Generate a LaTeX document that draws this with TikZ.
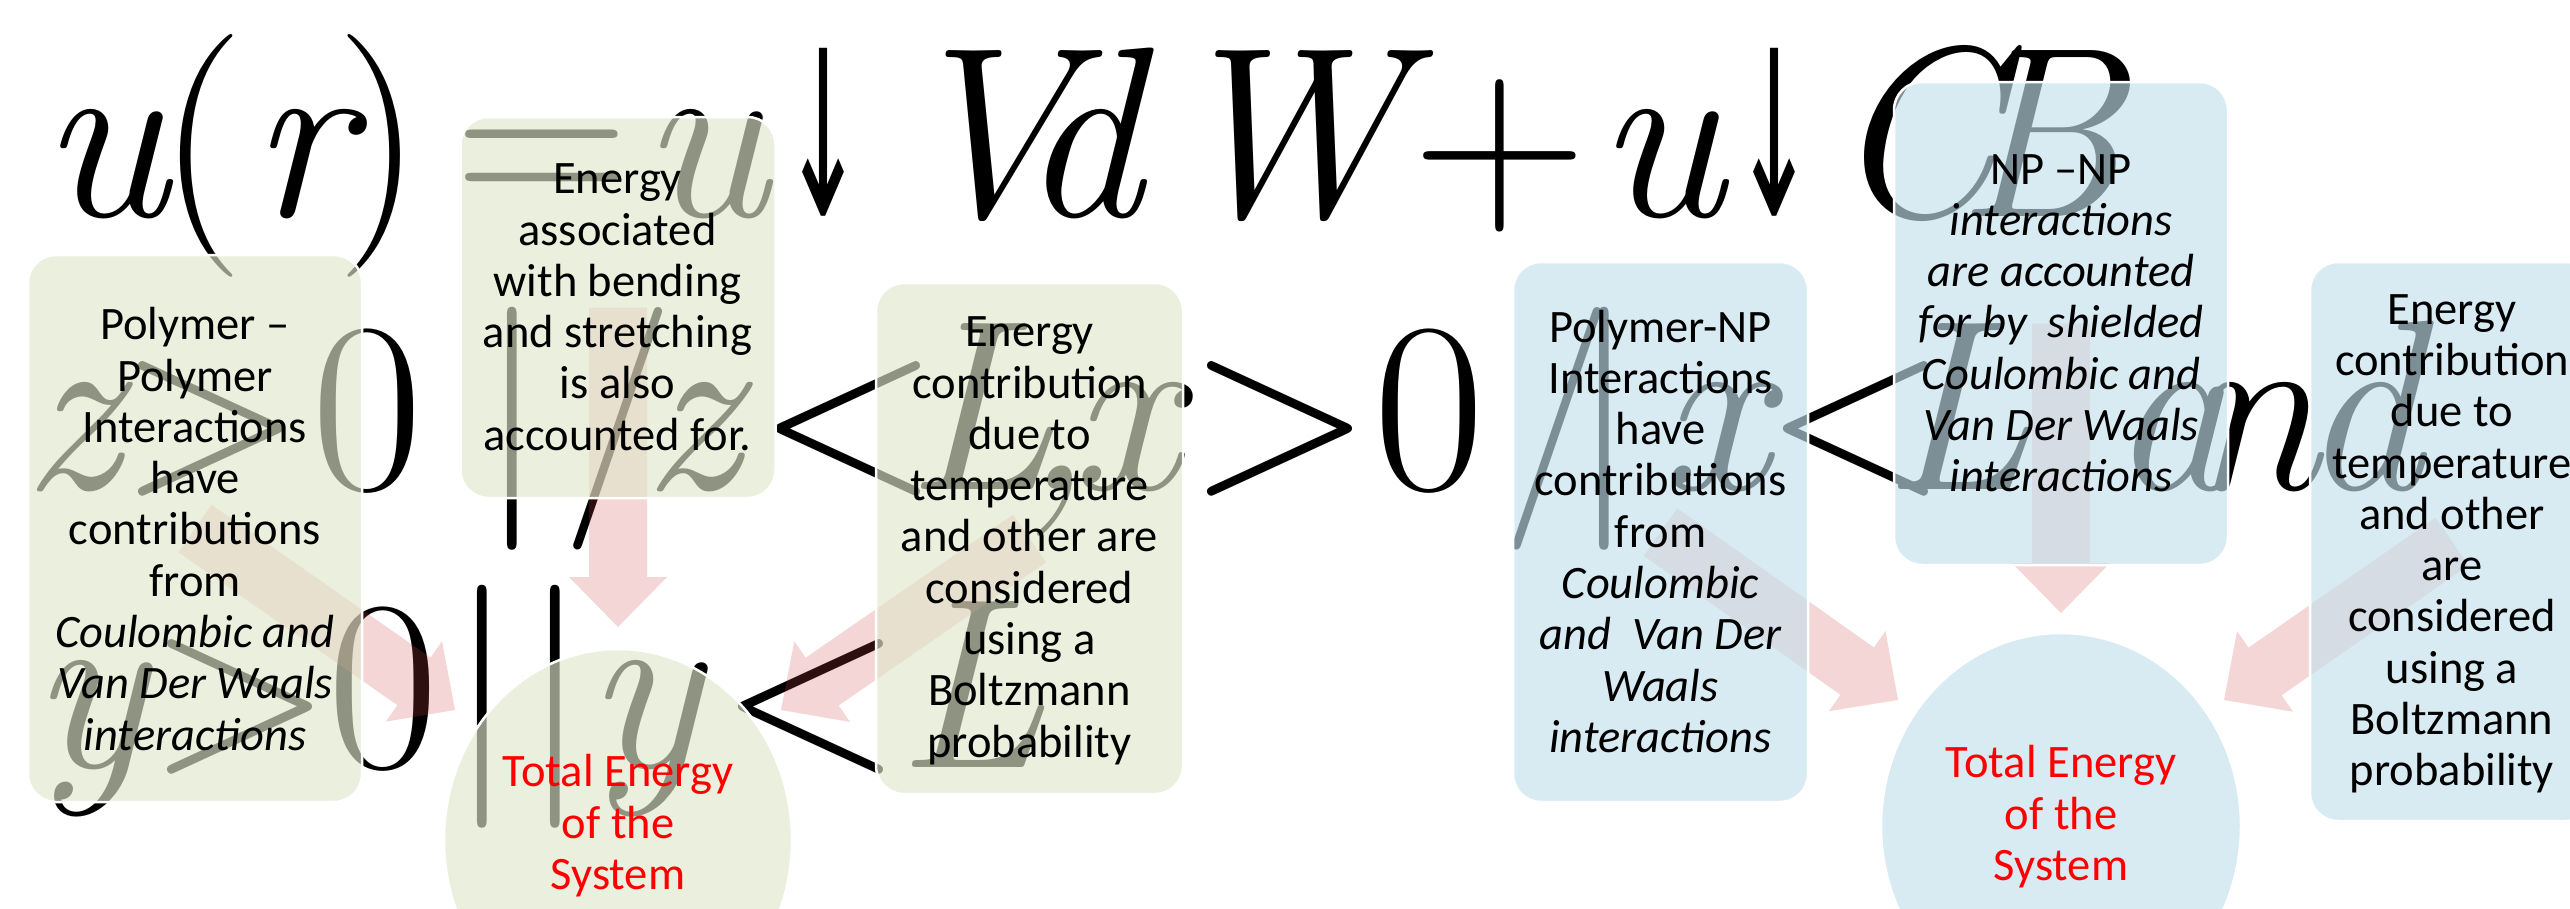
\documentclass[tikz,border=0pt]{standalone}
\usepackage{fontspec}
\usepackage{graphicx}
\newfontfamily\calib{Carlito}
\newfontfamily\djs{DejaVu Sans}
\usetikzlibrary{calc,shapes.geometric}
\definecolor{gfill}{RGB}{224,231,202}
\definecolor{bfill}{RGB}{196,224,235}
\definecolor{afill}{RGB}{205,70,70}
\definecolor{txtred}{RGB}{255,0,0}
\newcommand\gi[2]{\rlap{\hskip#1pt\itshape #2}}
\newcommand\gu[2]{\rlap{\hskip#1pt #2}}
\newcommand\gdn[1]{\rlap{\hskip#1pt\resizebox*{82pt}{168pt}{\raisebox{\depth}{\djs\itshape ↓}}}}
\newcommand\boxlines[1]{\begin{tabular}{@{}c@{}}#1\end{tabular}}
\newcommand\blockarrow[2]{%
  \coordinate (ab) at ($(#2)!50pt!(#1)$);
  \fill[arrowfill] ($(#1)!29pt!90:(#2)$) -- ($(ab)!29pt!-90:(#1)$) -- ($(ab)!49pt!-90:(#1)$) -- (#2)
    -- ($(ab)!49pt!90:(#1)$) -- ($(ab)!29pt!90:(#1)$) -- ($(#1)!29pt!-90:(#2)$) -- cycle;}
\tikzset{
  mathline/.style={anchor=base west, inner sep=0pt, font=\fontsize{243}{243}\selectfont},
  arrowfill/.style={fill=afill, fill opacity=0.22},
  gbox/.style={rectangle, rounded corners=28pt, draw=white, line width=2.5pt, fill=gfill, fill opacity=0.64, inner sep=0pt},
  bbox/.style={gbox, fill=bfill},
  gell/.style={ellipse, draw=white, line width=2.5pt, fill=gfill, fill opacity=0.64, inner sep=0pt},
  bell/.style={gell, fill=bfill},
  boxtext/.style={inner sep=0pt, font=\calib\fontsize{46.5}{51.3}\selectfont},
  redtext/.style={boxtext, text=txtred}
}
\begin{document}
\begin{tikzpicture}[x=1pt,y=-1pt]
\fill[white] (0,0) rectangle (2570,908);
\useasboundingbox (0,0) rectangle (2570,908);
% big equation text in the background
\node[mathline] (eqa) at (0,216) {\gi{40}{u}\gu{158}{(}\gi{250}{r}\gu{336}{)}\gu{454}{=}\gi{640}{u}\gdn{782}\gi{895}{V}\gi{1020}{d}\gi{1165}{W}\gu{1412}{+}\gi{1596}{u}\gdn{1733}\gi{1828}{C}\gi{1955}{B}};
\node[mathline] (eqb) at (0,489) {\gi{22}{z}\gu{118}{>}\gu{311}{0}\gu{478}{|}\gu{562}{/}\gi{642}{z}\gu{755}{<}\gi{905}{L}\gi{1020}{,}\gi{1070}{x}\gu{1187}{>}\gu{1373}{0}\gu{1501}{/}\gu{1570}{|}\gi{1660}{x}\gu{1763}{<}\gi{1882}{L}\gi{2110}{a}\gi{2185}{n}\gi{2300}{d}};
\node[mathline] (eqc) at (0,767) {\gi{30}{y}\gu{147}{>}\gu{327}{0}\gu{448}{|}\gu{521}{|}\gi{585}{y}\gu{718}{<}\gi{896}{L}};
% centres and arrow tips
\coordinate (cA) at (195,528.5);
\coordinate (cB) at (618,307.5);
\coordinate (cC) at (1029.5,538.5);
\coordinate (cD) at (1660.5,532);
\coordinate (cE) at (2061,323.5);
\coordinate (cF) at (2452,541.5);
\coordinate (tA) at (455,710);
\coordinate (tB) at (618,627);
\coordinate (tC) at (781,710);
\coordinate (tD) at (1898,700);
\coordinate (tE) at (2061,613);
\coordinate (tF) at (2224,700);
% arrows
\blockarrow{cA}{tA}
\blockarrow{cB}{tB}
\blockarrow{cC}{tC}
\blockarrow{cD}{tD}
\blockarrow{cE}{tE}
\blockarrow{cF}{tF}
% boxes
\node[gbox, minimum width=334pt, minimum height=547pt] (A) at (cA) {};
\node[gbox, minimum width=315pt, minimum height=381pt] (B) at (cB) {};
\node[gbox, minimum width=307pt, minimum height=511pt] (C) at (cC) {};
\node[gell, minimum width=348pt, minimum height=382pt] (G) at (618,840) {};
\node[bbox, minimum width=295pt, minimum height=540pt] (D) at (cD) {};
\node[bbox, minimum width=334pt, minimum height=483pt] (E) at (cE) {};
\node[bbox, minimum width=284pt, minimum height=559pt] (F) at (cF) {};
\node[bell, minimum width=360pt, minimum height=386pt] (H) at (2061,826) {};
% texts
\node[boxtext] (lA) at (195,534.7) {\boxlines{Polymer –\\Polymer\\Interactions\\have\\contributions\\from\\\itshape Coulombic and\\\itshape Van Der Waals\\\itshape interactions}};
\node[boxtext] (lB) at (617.5,311.7) {\boxlines{Energy\\associated\\with bending\\and stretching\\is also\\accounted for.}};
\node[boxtext] (lC) at (1029.5,541.7) {\boxlines{Energy\\contribution\\due to\\temperature\\and other are\\considered\\using a\\Boltzmann\\probability}};
\node[redtext] (lG) at (618,828) {\boxlines{Total Energy\\of the\\System}};
\node[boxtext] (lD) at (1660.5,537) {\boxlines{Polymer-NP\\Interactions\\have\\contributions\\from\\\itshape Coulombic\\\itshape and~~Van Der\\\itshape Waals\\\itshape interactions}};
\node[boxtext] (lE) at (2061,327.7) {\boxlines{NP –NP\\\itshape interactions\\\itshape are accounted\\\itshape for by~~shielded\\\itshape Coulombic and\\\itshape Van Der Waals\\\itshape interactions}};
\node[boxtext] (lF) at (2452,544.7) {\boxlines{Energy\\contribution\\due to\\temperature\\and other\\are\\considered\\using a\\Boltzmann\\probability}};
\node[redtext] (lH) at (2061,819) {\boxlines{Total Energy\\of the\\System}};
\end{tikzpicture}
\end{document}
